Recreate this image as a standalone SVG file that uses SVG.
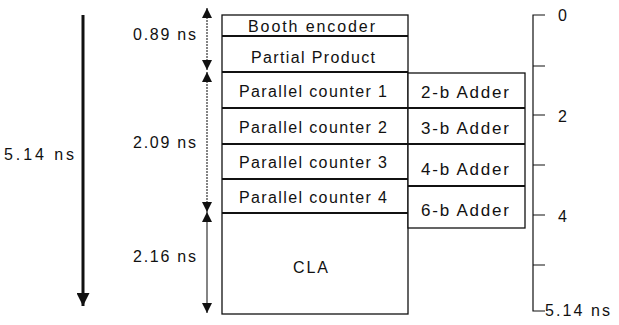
<svg xmlns="http://www.w3.org/2000/svg" width="619" height="325" viewBox="0 0 619 325">
<style>
text{font-family:"Liberation Sans",Arial,sans-serif;font-size:16px;fill:#111;}
.a{font-size:17px;}
.box{fill:#fff;stroke:#111;stroke-width:1.3;}
.sep{stroke:#111;stroke-width:2;}
.dim{stroke:#333;stroke-width:1.2;fill:none;}
.ax{stroke:#111;stroke-width:1.2;fill:none;}
</style>
<defs>
<marker id="ah" viewBox="0 0 10 10" refX="10" refY="5" markerWidth="10" markerHeight="10" markerUnits="userSpaceOnUse" orient="auto-start-reverse">
<path d="M0,0 L10,5 L0,10 Z" fill="#111"/>
</marker>
<marker id="bh" viewBox="0 0 10 10" refX="10" refY="5" markerWidth="16" markerHeight="13" markerUnits="userSpaceOnUse" orient="auto">
<path d="M0,0 L10,5 L0,10 Z" fill="#111"/>
</marker>
</defs>
<g id="connectors">
<line x1="83" y1="15" x2="83" y2="306" stroke="#111" stroke-width="3" marker-end="url(#bh)"/>
<line class="dim" x1="207" y1="8" x2="207" y2="70" stroke-dasharray="2 1" marker-start="url(#ah)" marker-end="url(#ah)"/>
<line class="dim" x1="207" y1="72" x2="207" y2="212" stroke-dasharray="2 1" marker-start="url(#ah)" marker-end="url(#ah)"/>
<line class="dim" x1="207" y1="212" x2="207" y2="313" marker-start="url(#ah)" marker-end="url(#ah)"/>
</g>
<g id="labels">
<text x="4" y="160" textLength="70" lengthAdjust="spacing">5.14 ns</text>
<text x="133" y="40" textLength="63" lengthAdjust="spacing">0.89 ns</text>
<text x="133" y="148" textLength="63" lengthAdjust="spacing">2.09 ns</text>
<text x="133" y="262" textLength="63" lengthAdjust="spacing">2.16 ns</text>
</g>
<g id="stack">
<rect class="box" x="222" y="15" width="186" height="299"/>
<line class="sep" x1="222" y1="36" x2="408" y2="36"/>
<line class="sep" x1="222" y1="72" x2="408" y2="72"/>
<line class="sep" x1="222" y1="108" x2="408" y2="108"/>
<line class="sep" x1="222" y1="144" x2="408" y2="144"/>
<line class="sep" x1="222" y1="179" x2="408" y2="179"/>
<line class="sep" x1="222" y1="213" x2="408" y2="213"/>
</g>
<g id="booth"><text x="248" y="32" textLength="127" lengthAdjust="spacing">Booth encoder</text></g>
<g id="pp"><text x="251" y="63" textLength="124" lengthAdjust="spacing">Partial Product</text></g>
<g id="pc1"><text x="239" y="97" textLength="148" lengthAdjust="spacing">Parallel counter 1</text></g>
<g id="pc2"><text x="239" y="133" textLength="148" lengthAdjust="spacing">Parallel counter 2</text></g>
<g id="pc3"><text x="239" y="168" textLength="148" lengthAdjust="spacing">Parallel counter 3</text></g>
<g id="pc4"><text x="239" y="203" textLength="148" lengthAdjust="spacing">Parallel counter 4</text></g>
<g id="cla"><text x="293" y="273" textLength="35" lengthAdjust="spacing">CLA</text></g>
<g id="adders">
<rect class="box" x="408" y="73" width="117" height="155"/>
<line class="sep" x1="408" y1="108" x2="525" y2="108"/>
<line class="sep" x1="408" y1="144" x2="525" y2="144"/>
<line class="sep" x1="408" y1="186" x2="525" y2="186"/>
</g>
<g id="add2"><text class="a" x="421" y="98" textLength="88" lengthAdjust="spacing">2-b Adder</text></g>
<g id="add3"><text class="a" x="421" y="134" textLength="88" lengthAdjust="spacing">3-b Adder</text></g>
<g id="add4"><text class="a" x="421" y="175" textLength="88" lengthAdjust="spacing">4-b Adder</text></g>
<g id="add6"><text class="a" x="421" y="216" textLength="88" lengthAdjust="spacing">6-b Adder</text></g>
<g id="axis">
<path class="ax" d="M545,15 H533 V311 H545 M533,66 H545 M533,115 H545 M533,165 H545 M533,215 H545 M533,265 H545"/>
<text x="558" y="21">0</text>
<text x="558" y="122">2</text>
<text x="558" y="222">4</text>
<text x="545" y="316" textLength="65" lengthAdjust="spacing">5.14 ns</text>
</g>
</svg>
